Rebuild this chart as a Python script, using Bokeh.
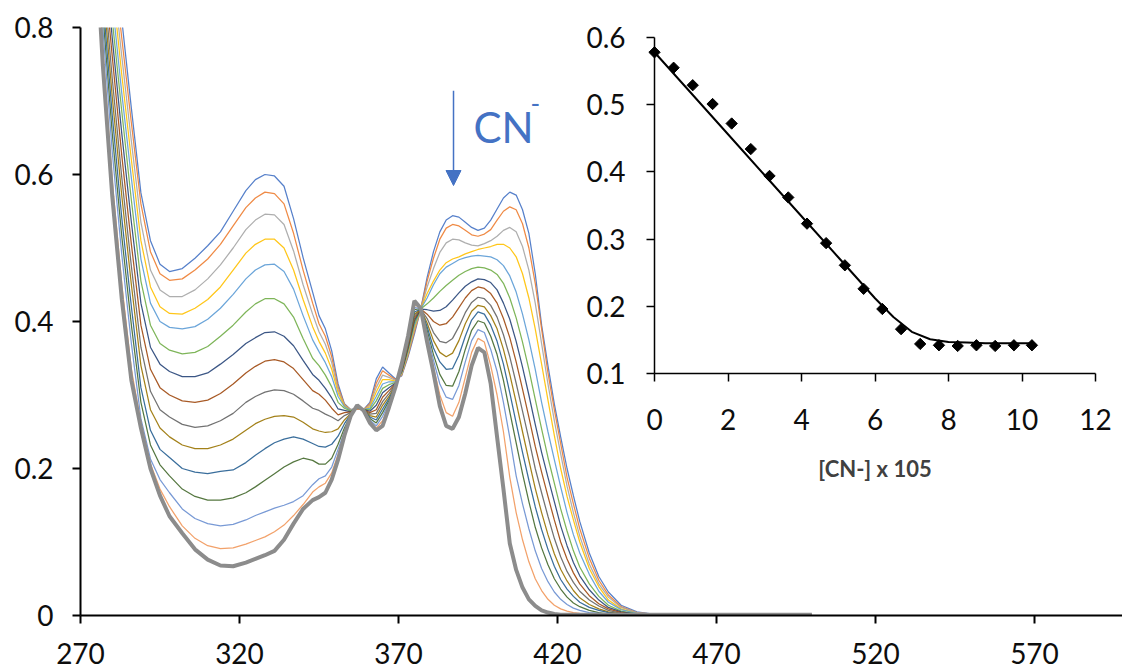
from bokeh.plotting import figure
from bokeh.models import Range1d, FixedTicker, Arrow, NormalHead, Label, GridBox
from bokeh.embed import file_html
from bokeh.resources import INLINE

# ---------------- data ----------------
wl = [274, 277, 280, 283, 286, 289, 292, 295, 298,
      302, 306, 310, 314, 318, 322,
      325, 328, 331, 334, 337, 340, 343,
      345, 347, 349, 351, 353, 355,
      357, 359, 361, 363, 365, 367, 369, 371, 373, 375, 377,
      379, 381, 383, 385, 387, 389, 391, 393, 395, 397,
      399, 401, 403, 405, 407, 409, 411, 413, 415, 417, 419, 421, 423, 425, 427,
      430, 433, 436, 440, 445, 450, 460, 480, 500]

a00 = [1.25, 1.07, 0.93, 0.81, 0.69, 0.575, 0.51, 0.478, 0.468,
       0.472, 0.486, 0.503, 0.522, 0.55, 0.578,
       0.593, 0.600, 0.598, 0.584, 0.54, 0.487, 0.44,
       0.408, 0.39, 0.36, 0.315, 0.288, 0.28,
       0.281, 0.28, 0.29, 0.322, 0.338, 0.33, 0.322, 0.326, 0.352, 0.383, 0.417,
       0.46, 0.495, 0.522, 0.538, 0.544, 0.542, 0.535, 0.528, 0.524, 0.527,
       0.538, 0.553, 0.568, 0.576, 0.572, 0.552, 0.52, 0.465, 0.395, 0.34, 0.288, 0.243, 0.2, 0.163, 0.128,
       0.085, 0.053, 0.032, 0.014, 0.005, 0.002, 0.001, 0.001, 0.001]
a01 = [1.22, 1.04, 0.90, 0.785, 0.67, 0.56, 0.495, 0.465, 0.456,
       0.458, 0.47, 0.485, 0.505, 0.53, 0.555,
       0.568, 0.576, 0.574, 0.56, 0.52, 0.47, 0.425,
       0.397, 0.38, 0.352, 0.311, 0.287, 0.28,
       0.281, 0.28, 0.288, 0.316, 0.333, 0.327, 0.321, 0.327, 0.354, 0.386, 0.417,
       0.455, 0.486, 0.512, 0.527, 0.532, 0.53, 0.524, 0.518, 0.516, 0.519,
       0.525, 0.538, 0.55, 0.556, 0.552, 0.533, 0.5, 0.452, 0.39, 0.33, 0.28, 0.234, 0.188, 0.152, 0.118,
       0.078, 0.048, 0.028, 0.012, 0.004, 0.002, 0.001, 0.001, 0.001]
a02 = [1.2, 1.02, 0.88, 0.76, 0.645, 0.535, 0.47, 0.443, 0.434,
       0.434, 0.443, 0.458, 0.477, 0.5, 0.525,
       0.538, 0.546, 0.545, 0.532, 0.496, 0.45, 0.41,
       0.386, 0.369, 0.344, 0.307, 0.286, 0.28,
       0.282, 0.28, 0.286, 0.31, 0.327, 0.324, 0.32, 0.328, 0.356, 0.389, 0.417,
       0.447, 0.472, 0.494, 0.507, 0.512, 0.511, 0.507, 0.504, 0.503, 0.506,
       0.51, 0.516, 0.524, 0.528, 0.522, 0.502, 0.47, 0.425, 0.37, 0.315, 0.265, 0.22, 0.176, 0.14, 0.108,
       0.07, 0.043, 0.025, 0.011, 0.004, 0.002, 0.001, 0.001, 0.001]
a03 = [1.18, 1.0, 0.86, 0.735, 0.62, 0.51, 0.447, 0.42, 0.411,
       0.41, 0.418, 0.43, 0.447, 0.47, 0.493,
       0.505, 0.512, 0.512, 0.5, 0.47, 0.43, 0.393,
       0.373, 0.357, 0.335, 0.303, 0.285, 0.279,
       0.282, 0.28, 0.284, 0.304, 0.321, 0.321, 0.319, 0.329, 0.358, 0.392, 0.417,
       0.438, 0.455, 0.47, 0.48, 0.485, 0.488, 0.492, 0.495, 0.498, 0.5,
       0.502, 0.505, 0.505, 0.5, 0.488, 0.465, 0.432, 0.39, 0.342, 0.293, 0.245, 0.2, 0.162, 0.13, 0.1,
       0.064, 0.039, 0.021, 0.009, 0.003, 0.001, 0.001, 0.001, 0.001]
a04 = [1.15, 0.98, 0.835, 0.71, 0.595, 0.485, 0.425, 0.4, 0.392,
       0.39, 0.393, 0.403, 0.418, 0.437, 0.458,
       0.47, 0.477, 0.478, 0.468, 0.444, 0.408, 0.375,
       0.359, 0.344, 0.325, 0.298, 0.284, 0.279,
       0.283, 0.28, 0.282, 0.298, 0.315, 0.318, 0.318, 0.33, 0.36, 0.395, 0.417,
       0.432, 0.45, 0.465, 0.474, 0.479, 0.484, 0.487, 0.489, 0.49, 0.489,
       0.488, 0.484, 0.476, 0.462, 0.44, 0.41, 0.375, 0.335, 0.29, 0.25, 0.212, 0.175, 0.14, 0.11, 0.085,
       0.056, 0.033, 0.018, 0.008, 0.003, 0.001, 0.001, 0.001, 0.001]
a05 = [1.12, 0.95, 0.81, 0.685, 0.565, 0.455, 0.395, 0.37, 0.361,
       0.356, 0.358, 0.366, 0.38, 0.395, 0.413,
       0.424, 0.431, 0.431, 0.424, 0.406, 0.377, 0.35,
       0.34, 0.327, 0.311, 0.29, 0.282, 0.278,
       0.283, 0.28, 0.28, 0.292, 0.309, 0.314, 0.317, 0.331, 0.362, 0.398, 0.417,
       0.424, 0.432, 0.441, 0.449, 0.456, 0.463, 0.468, 0.472, 0.474, 0.473,
       0.47, 0.464, 0.452, 0.432, 0.405, 0.372, 0.335, 0.294, 0.254, 0.215, 0.18, 0.145, 0.115, 0.088, 0.066,
       0.043, 0.026, 0.014, 0.006, 0.002, 0.001, 0.001, 0.001, 0.001]
a06 = [1.1, 0.93, 0.785, 0.655, 0.535, 0.425, 0.365, 0.342, 0.332,
       0.325, 0.325, 0.33, 0.342, 0.355, 0.37,
       0.378, 0.385, 0.386, 0.38, 0.367, 0.347, 0.328,
       0.32, 0.309, 0.296, 0.281, 0.279, 0.277,
       0.283, 0.28, 0.278, 0.286, 0.303, 0.31, 0.316, 0.332, 0.364, 0.401, 0.417,
       0.416, 0.414, 0.415, 0.42, 0.429, 0.439, 0.448, 0.454, 0.458, 0.457,
       0.453, 0.443, 0.425, 0.403, 0.373, 0.338, 0.3, 0.26, 0.222, 0.188, 0.155, 0.122, 0.095, 0.072, 0.054,
       0.035, 0.021, 0.011, 0.005, 0.002, 0.001, 0.001, 0.001, 0.001]
a07 = [1.08, 0.9, 0.76, 0.625, 0.505, 0.395, 0.335, 0.31, 0.3,
       0.292, 0.29, 0.293, 0.302, 0.315, 0.33,
       0.339, 0.346, 0.348, 0.345, 0.336, 0.321, 0.306,
       0.301, 0.293, 0.282, 0.273, 0.276, 0.277,
       0.284, 0.28, 0.276, 0.28, 0.297, 0.306, 0.315, 0.333, 0.366, 0.404, 0.417,
       0.41, 0.4, 0.395, 0.397, 0.406, 0.419, 0.432, 0.442, 0.447, 0.445,
       0.438, 0.425, 0.404, 0.378, 0.345, 0.308, 0.27, 0.23, 0.195, 0.162, 0.13, 0.1, 0.077, 0.058, 0.043,
       0.027, 0.016, 0.009, 0.004, 0.001, 0.001, 0.001, 0.001, 0.001]
a08 = [1.06, 0.88, 0.73, 0.595, 0.475, 0.365, 0.305, 0.28, 0.27,
       0.26, 0.256, 0.258, 0.265, 0.275, 0.29,
       0.298, 0.304, 0.307, 0.306, 0.301, 0.292, 0.282,
       0.279, 0.274, 0.27, 0.265, 0.272, 0.276,
       0.284, 0.28, 0.274, 0.275, 0.291, 0.302, 0.314, 0.334, 0.368, 0.407, 0.417,
       0.404, 0.385, 0.373, 0.371, 0.377, 0.393, 0.412, 0.426, 0.433, 0.431,
       0.422, 0.406, 0.382, 0.352, 0.316, 0.278, 0.24, 0.2, 0.167, 0.135, 0.105, 0.08, 0.06, 0.045, 0.033,
       0.021, 0.013, 0.007, 0.003, 0.001, 0.001, 0.001, 0.001, 0.001]
a09 = [1.04, 0.86, 0.705, 0.57, 0.45, 0.34, 0.28, 0.255, 0.243,
       0.232, 0.227, 0.227, 0.232, 0.24, 0.252,
       0.261, 0.267, 0.271, 0.272, 0.27, 0.263, 0.254,
       0.251, 0.249, 0.25, 0.254, 0.266, 0.275,
       0.284, 0.28, 0.272, 0.27, 0.286, 0.298, 0.313, 0.335, 0.37, 0.41, 0.417,
       0.398, 0.374, 0.358, 0.352, 0.357, 0.374, 0.397, 0.414, 0.422, 0.42,
       0.408, 0.39, 0.362, 0.328, 0.29, 0.25, 0.211, 0.173, 0.14, 0.11, 0.084, 0.063, 0.047, 0.034, 0.024,
       0.015, 0.009, 0.005, 0.002, 0.001, 0.001, 0.001, 0.001, 0.001]
a10 = [1.02, 0.84, 0.68, 0.54, 0.42, 0.31, 0.252, 0.226, 0.215,
       0.2, 0.195, 0.193, 0.196, 0.198, 0.208,
       0.218, 0.227, 0.235, 0.24, 0.243, 0.24, 0.234,
       0.23, 0.229, 0.233, 0.244, 0.261, 0.274,
       0.285, 0.28, 0.27, 0.266, 0.281, 0.295, 0.312, 0.336, 0.372, 0.413, 0.417,
       0.393, 0.364, 0.345, 0.335, 0.336, 0.354, 0.38, 0.402, 0.413, 0.41,
       0.395, 0.373, 0.342, 0.303, 0.262, 0.222, 0.184, 0.148, 0.117, 0.09, 0.067, 0.049, 0.036, 0.026, 0.018,
       0.011, 0.007, 0.004, 0.002, 0.001, 0.001, 0.001, 0.001, 0.001]
a11 = [1.01, 0.82, 0.655, 0.515, 0.395, 0.29, 0.232, 0.205, 0.19,
       0.172, 0.162, 0.157, 0.157, 0.16, 0.167,
       0.175, 0.184, 0.193, 0.202, 0.209, 0.214, 0.211,
       0.206, 0.206, 0.214, 0.233, 0.255, 0.273,
       0.285, 0.28, 0.268, 0.262, 0.276, 0.292, 0.311, 0.337, 0.374, 0.416, 0.418,
       0.388, 0.355, 0.328, 0.313, 0.312, 0.332, 0.362, 0.388, 0.401, 0.398,
       0.38, 0.355, 0.32, 0.277, 0.235, 0.193, 0.155, 0.12, 0.092, 0.069, 0.05, 0.036, 0.025, 0.017, 0.012,
       0.007, 0.004, 0.002, 0.001, 0.001, 0.001, 0.001, 0.001, 0.001]
a12 = [1.0, 0.8, 0.63, 0.49, 0.37, 0.268, 0.213, 0.185, 0.167,
       0.145, 0.132, 0.125, 0.122, 0.124, 0.13,
       0.136, 0.141, 0.146, 0.15, 0.155, 0.163, 0.178,
       0.186, 0.19, 0.202, 0.226, 0.25, 0.273,
       0.285, 0.279, 0.266, 0.258, 0.271, 0.289, 0.311, 0.339, 0.376, 0.419, 0.418,
       0.383, 0.347, 0.315, 0.297, 0.294, 0.313, 0.345, 0.374, 0.389, 0.385,
       0.362, 0.332, 0.29, 0.242, 0.19, 0.152, 0.118, 0.088, 0.064, 0.046, 0.032, 0.022, 0.015, 0.01, 0.007,
       0.004, 0.003, 0.002, 0.001, 0.001, 0.001, 0.001, 0.001, 0.001]
a13 = [0.99, 0.77, 0.59, 0.45, 0.335, 0.262, 0.206, 0.172, 0.148,
       0.122, 0.105, 0.095, 0.091, 0.092, 0.097,
       0.102, 0.107, 0.114, 0.123, 0.136, 0.151, 0.168,
       0.175, 0.18, 0.194, 0.219, 0.247, 0.272,
       0.286, 0.279, 0.264, 0.255, 0.265, 0.286, 0.31, 0.34, 0.378, 0.423, 0.418,
       0.378, 0.338, 0.3, 0.276, 0.271, 0.29, 0.324, 0.358, 0.377, 0.372,
       0.34, 0.3, 0.25, 0.188, 0.14, 0.103, 0.073, 0.05, 0.034, 0.022, 0.014, 0.009, 0.006, 0.004, 0.003,
       0.002, 0.001, 0.001, 0.001, 0.001, 0.001, 0.001, 0.001, 0.001]
a14 = [0.98, 0.75, 0.57, 0.43, 0.32, 0.255, 0.2, 0.163, 0.135,
       0.112, 0.09, 0.076, 0.068, 0.067, 0.072,
       0.077, 0.082, 0.088, 0.103, 0.125, 0.145, 0.157,
       0.161, 0.167, 0.185, 0.212, 0.245, 0.272,
       0.286, 0.279, 0.262, 0.252, 0.258, 0.283, 0.31, 0.342, 0.38, 0.428, 0.418,
       0.372, 0.33, 0.285, 0.258, 0.254, 0.27, 0.302, 0.34, 0.364, 0.358,
       0.315, 0.243, 0.172, 0.098, 0.062, 0.038, 0.022, 0.013, 0.007, 0.004, 0.002, 0.001, 0.001, 0.001, 0.001,
       0.001, 0.001, 0.001, 0.001, 0.001, 0.001, 0.001, 0.001, 0.001]

colors = ["#4472C4", "#ED7D31", "#A5A5A5", "#FFC000", "#5B9BD5", "#70AD47", "#264478", "#9E480E",
          "#636363", "#997300", "#255E91", "#43682B", "#698ED0", "#F1975A", "#8C8C8C"]

main_x_ticks = [270, 320, 370, 420, 470, 520, 570]
main_y_ticks = [0, 0.2, 0.4, 0.6, 0.8]
main_y_labels = ["0", "0.2", "0.4", "0.6", "0.8"]

# inset: absorbance vs [CN-]
cn_x = [0, 0.52, 1.04, 1.58, 2.10, 2.62, 3.13, 3.64, 4.15, 4.67, 5.18, 5.69, 6.20, 6.71, 7.23, 7.74,
        8.25, 8.76, 9.27, 9.78, 10.27]
cn_y = [0.578, 0.555, 0.529, 0.501, 0.472, 0.434, 0.394, 0.362, 0.323, 0.294, 0.261, 0.226, 0.196,
        0.166, 0.144, 0.142, 0.141, 0.142, 0.141, 0.142, 0.142]
fit_x = [0, 1, 2, 3, 4, 5, 6, 6.5, 7, 7.5, 8, 8.5, 9, 10.27]
fit_y = [0.578, 0.517, 0.456, 0.395, 0.334, 0.273, 0.212, 0.184, 0.162, 0.151, 0.147, 0.146, 0.145, 0.145]
inset_x_ticks = [0, 2, 4, 6, 8, 10, 12]
inset_y_ticks = [0.1, 0.2, 0.3, 0.4, 0.5, 0.6]
inset_y_labels = ["0.1", "0.2", "0.3", "0.4", "0.5", "0.6"]
inset_xlabel = "[CN-] x 105"

arrow_x, arrow_y0, arrow_y1 = 387.3, 0.714, 0.585
cn_text_x, cn_text_y = 393.6, 0.665
sup_x, sup_y = 411.5, 0.697

spectra = [a00, a01, a02, a03, a04, a05, a06, a07, a08, a09, a10, a11, a12, a13, a14]

# ---------------- layout ----------------
W, H = 1122, 669
FL, FR, FT, FB = 80, 1122, 27, 615      # main frame (px)
IL, IR, IT, IB = 654, 1095, 37, 373     # inset frame (px)
PX_PER_NM = 159.0 / 50.0
X0, Y0, Y1 = 270, 0.0, 0.8
BLUE = "#4472C4"
FONT = "Lato"
TICK_FONT_SIZE = "28px"
LABEL_COLOR = "#0d0d0d"

p = figure(width=W, height=H, output_backend="svg", toolbar_location=None,
           x_range=Range1d(X0, X0 + (FR - FL) / PX_PER_NM), y_range=Range1d(Y0, Y1),
           min_border_left=FL, min_border_right=W - FR, min_border_top=FT, min_border_bottom=H - FB)
p.frame_align = False
p.outline_line_color = None
p.grid.visible = False
p.background_fill_color = None
p.border_fill_color = None

for ax in (p.xaxis[0], p.yaxis[0]):
    ax.axis_line_color = "black"
    ax.axis_line_width = 2
    ax.major_tick_line_color = "black"
    ax.major_tick_line_width = 2
    ax.major_tick_out = 8
    ax.major_tick_in = 0
    ax.minor_tick_line_color = None
    ax.major_label_text_font = FONT
    ax.major_label_text_font_size = TICK_FONT_SIZE
    ax.major_label_text_color = LABEL_COLOR

p.xaxis.ticker = FixedTicker(ticks=main_x_ticks)
p.xaxis.major_label_standoff = 19
p.yaxis.ticker = FixedTicker(ticks=main_y_ticks)
p.yaxis.major_label_overrides = {t: s for t, s in zip(main_y_ticks, main_y_labels)}
p.yaxis.major_label_standoff = 19

for i, (arr, col) in enumerate(zip(spectra, colors)):
    last = i == len(spectra) - 1
    p.line(wl, arr, line_color=col, line_width=4 if last else 1.25, line_alpha=1.0 if last else 0.9)

# inset data drawn in main figure through ranges that coincide with the inset frame
sx = 12.0 / (IR - IL)
sy = 0.5 / (IB - IT)
p.extra_x_ranges = {"ix": Range1d(0 - (IL - FL) * sx, 12 + (FR - IR) * sx)}
p.extra_y_ranges = {"iy": Range1d(0.1 - (FB - IB) * sy, 0.6 + (IT - FT) * sy)}
p.line(fit_x, fit_y, x_range_name="ix", y_range_name="iy", line_color="black", line_width=2)
p.scatter(cn_x, cn_y, x_range_name="ix", y_range_name="iy", marker="square", angle=0.7854,
          size=8, fill_color="black", line_color="black")

p.add_layout(Arrow(end=NormalHead(size=15, fill_color=BLUE, line_color=BLUE),
                   x_start=arrow_x, y_start=arrow_y0, x_end=arrow_x, y_end=arrow_y1,
                   line_color=BLUE, line_width=1.5))
p.add_layout(Label(x=cn_text_x, y=cn_text_y, text="CN", text_font=FONT, text_font_size="42px",
                   text_color=BLUE, text_baseline="middle"))
p.add_layout(Label(x=sup_x, y=sup_y, text="-", text_font=FONT, text_font_size="26px",
                   text_color=BLUE, text_baseline="middle"))

# inset axes
q = figure(width=W, height=H, output_backend="svg", toolbar_location=None,
           x_range=Range1d(0, 12), y_range=Range1d(0.1, 0.6),
           min_border_left=IL, min_border_right=W - IR, min_border_top=IT, min_border_bottom=H - IB)
q.frame_align = False
q.outline_line_color = None
q.grid.visible = False
q.background_fill_alpha = 0
q.border_fill_alpha = 0
for ax in (q.xaxis[0], q.yaxis[0]):
    ax.axis_line_color = "black"
    ax.axis_line_width = 1.5
    ax.major_tick_line_color = "black"
    ax.major_tick_line_width = 1.5
    ax.major_tick_out = 8
    ax.major_tick_in = 0
    ax.minor_tick_line_color = None
    ax.major_label_text_font = FONT
    ax.major_label_text_font_size = TICK_FONT_SIZE
    ax.major_label_text_color = LABEL_COLOR
q.xaxis.ticker = FixedTicker(ticks=inset_x_ticks)
q.xaxis.major_label_standoff = 27
q.xaxis.axis_label = inset_xlabel
q.xaxis.axis_label_text_font = FONT
q.xaxis.axis_label_text_font_style = "bold"
q.xaxis.axis_label_text_font_size = "22px"
q.xaxis.axis_label_text_color = "#404040"
q.xaxis.axis_label_standoff = 22
q.yaxis.ticker = FixedTicker(ticks=inset_y_ticks)
q.yaxis.major_label_overrides = {t: s for t, s in zip(inset_y_ticks, inset_y_labels)}
q.yaxis.major_label_standoff = 21

layout = GridBox(children=[(p, 0, 0), (q, 0, 0)])

open("out.html", "w").write(file_html(layout, INLINE))
